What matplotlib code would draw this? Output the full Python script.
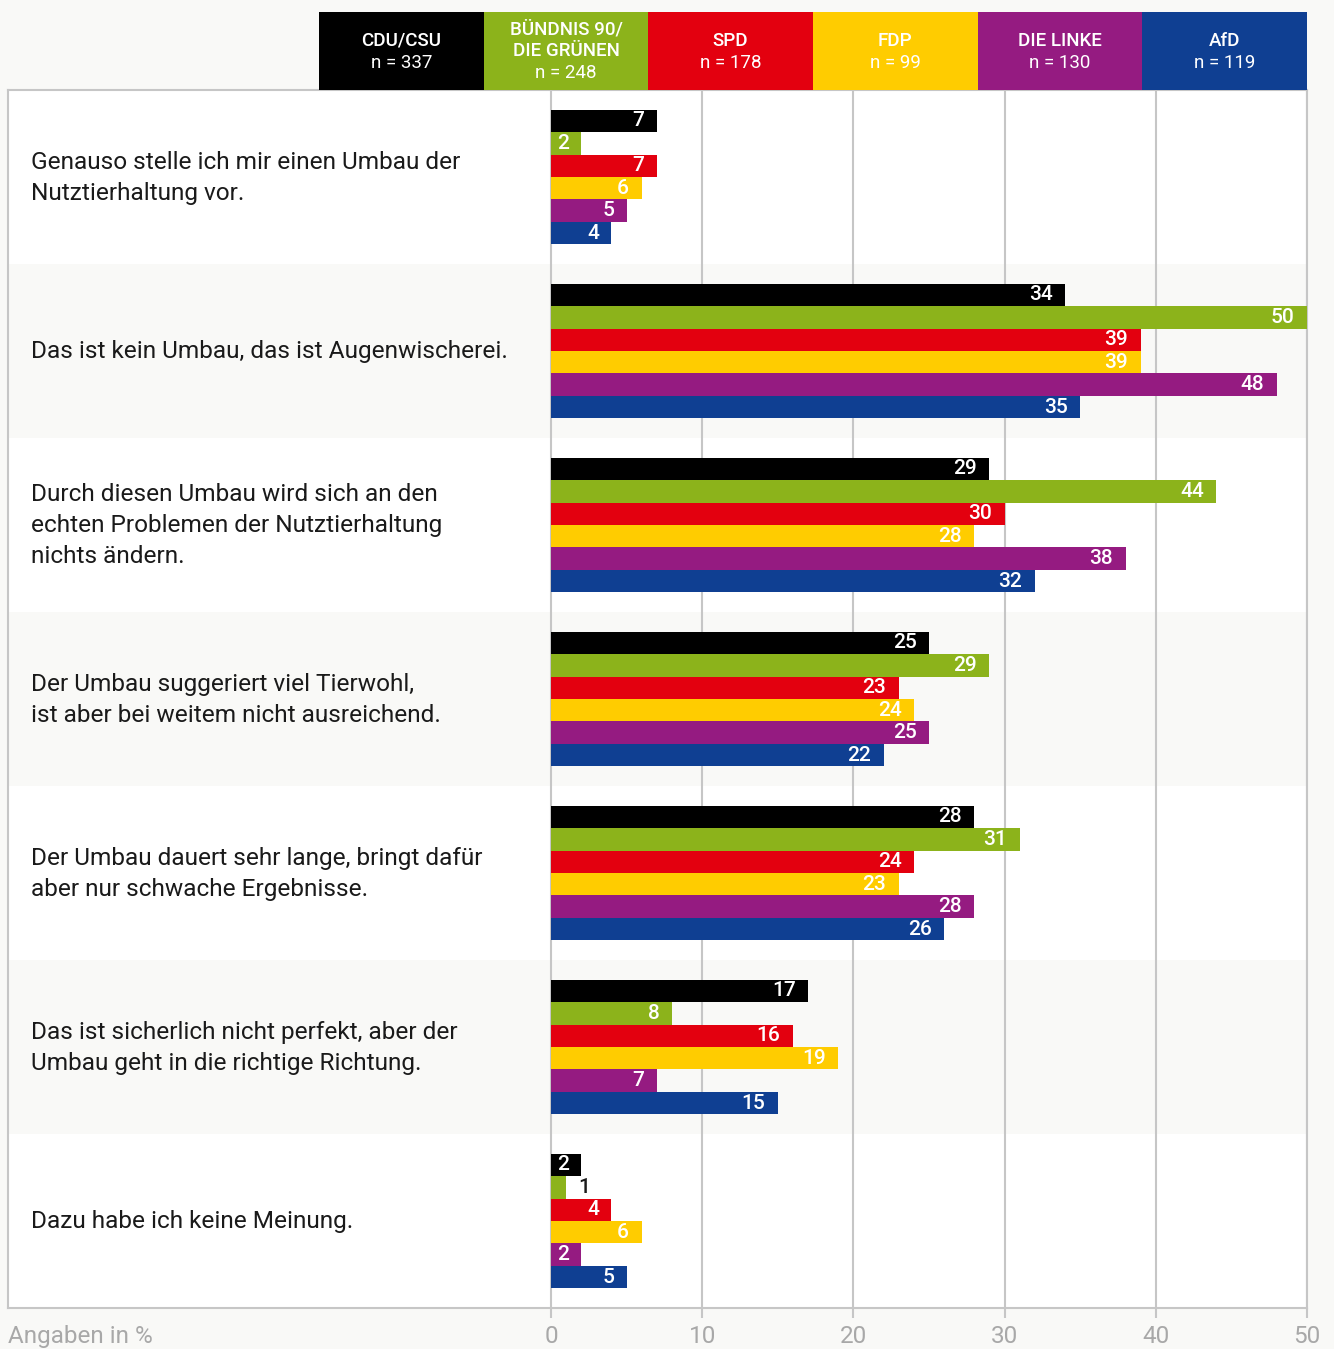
import matplotlib
matplotlib.use("Agg")
import matplotlib.pyplot as plt
from matplotlib.patches import Rectangle
from matplotlib.transforms import blended_transform_factory

plt.rcParams["font.family"] = ["Roboto", "DejaVu Sans"]

# -------------------------
# Data
# -------------------------
statements = [
    "Genauso stelle ich mir einen Umbau der\nNutztierhaltung vor.",
    "Das ist kein Umbau, das ist Augenwischerei.",
    "Durch diesen Umbau wird sich an den\nechten Problemen der Nutztierhaltung\nnichts ändern.",
    "Der Umbau suggeriert viel Tierwohl,\nist aber bei weitem nicht ausreichend.",
    "Der Umbau dauert sehr lange, bringt dafür\naber nur schwache Ergebnisse.",
    "Das ist sicherlich nicht perfekt, aber der\nUmbau geht in die richtige Richtung.",
    "Dazu habe ich keine Meinung.",
]

parties = ["CDU/CSU", "BÜNDNIS 90/\nDIE GRÜNEN", "SPD", "FDP", "DIE LINKE", "AfD"]
sample_sizes = ["n = 337", "n = 248", "n = 178", "n = 99", "n = 130", "n = 119"]
party_colors = ["#000000", "#8cb31b", "#e3000f", "#ffcc00", "#951b81", "#0f3f92"]

cdu = [7, 34, 29, 25, 28, 17, 2]
gruene = [2, 50, 44, 29, 31, 8, 1]
spd = [7, 39, 30, 23, 24, 16, 4]
fdp = [6, 39, 28, 24, 23, 19, 6]
linke = [5, 48, 38, 25, 28, 7, 2]
afd = [4, 35, 32, 22, 26, 15, 5]
series = [cdu, gruene, spd, fdp, linke, afd]

xticks = [0, 10, 20, 30, 40, 50]

BG = "#f9f9f7"
GRID = "#c6c6c6"
TICK_TXT = "#a8a8a8"
TXT = "#1a1a1a"

W, H = 1334, 1349
fig = plt.figure(figsize=(W / 100, H / 100), dpi=100, facecolor=BG)

# main panel: box from x=8..1307, y=90..1308 (pixels); value 0 sits at x=551
ax = fig.add_axes([8 / W, 1 - 1308 / H, 1299 / W, 1218 / H])
ax.set_facecolor("white")
x_left = -(551 - 8) / (1307 - 551) * 50
ax.set_xlim(x_left, 50)
n_rows = len(statements)
ax.set_ylim(n_rows, 0)

# alternating row backgrounds
for i in range(n_rows):
    if i % 2 == 1:
        ax.axhspan(i, i + 1, color=BG, zorder=0, lw=0)

# grid lines
ax.vlines(xticks, 0, n_rows, colors=GRID, lw=1.5, zorder=1)

bar_h = 0.1293
n_par = len(parties)
for j, (vals, col) in enumerate(zip(series, party_colors)):
    ys = [i + 0.5 + (j - (n_par - 1) / 2) * bar_h for i in range(n_rows)]
    ax.barh(ys, vals, height=bar_h, color=col, zorder=3, lw=0)
    for y, v in zip(ys, vals):
        if v >= 2:
            ax.annotate(str(v), xy=(v, y), xytext=(-9, 0), textcoords="offset points",
                        ha="right", va="center", color="white", fontsize=15,
                        fontweight="medium", zorder=4)
        else:
            ax.annotate(str(v), xy=(v, y), xytext=(9, 0), textcoords="offset points",
                        ha="left", va="center", color=TXT, fontsize=15,
                        fontweight="medium", zorder=4)

# statement labels
trans = blended_transform_factory(ax.transAxes, ax.transData)
for i, s in enumerate(statements):
    ax.text(23 / 1299, i + 0.505, s, transform=trans, ha="left", va="center",
            fontsize=17.6, color=TXT, linespacing=1.45, zorder=4)

# axes styling
ax.set_yticks([])
ax.set_xticks(xticks)
ax.set_xticklabels([str(t) for t in xticks])
ax.tick_params(axis="x", length=7.2, width=1.5, color=GRID, pad=5,
               labelsize=17.5, labelcolor=TICK_TXT)
for side in ["left", "right", "bottom", "top"]:
    ax.spines[side].set_color(GRID)
    ax.spines[side].set_linewidth(1.5)

ax.annotate("Angaben in %", xy=(0, 0), xycoords="axes fraction",
            xytext=(0, -12.2), textcoords="offset points",
            ha="left", va="top", fontsize=17.5,
            color=TICK_TXT, annotation_clip=False)

# header with party boxes: x=319..1307, y=12..90
hax = fig.add_axes([319 / W, 1 - 90 / H, 988 / W, 78 / H])
hax.set_xlim(0, n_par)
hax.set_ylim(78, 0)
hax.axis("off")
for j, (name, n, col) in enumerate(zip(parties, sample_sizes, party_colors)):
    hax.add_patch(Rectangle((j, 0), 1, 78, color=col, lw=0))
    lines = name.split("\n")
    total = len(lines) + 1
    first = 39.5 - (total - 1) * 11
    for k, ln in enumerate(lines):
        hax.text(j + 0.5, first + k * 22, ln, ha="center", va="center",
                 color="white", fontsize=13.5, fontweight="medium")
    hax.text(j + 0.5, first + len(lines) * 22, n, ha="center", va="center",
             color="white", fontsize=13.5)

fig.savefig("out.png", dpi=100, facecolor=BG)
